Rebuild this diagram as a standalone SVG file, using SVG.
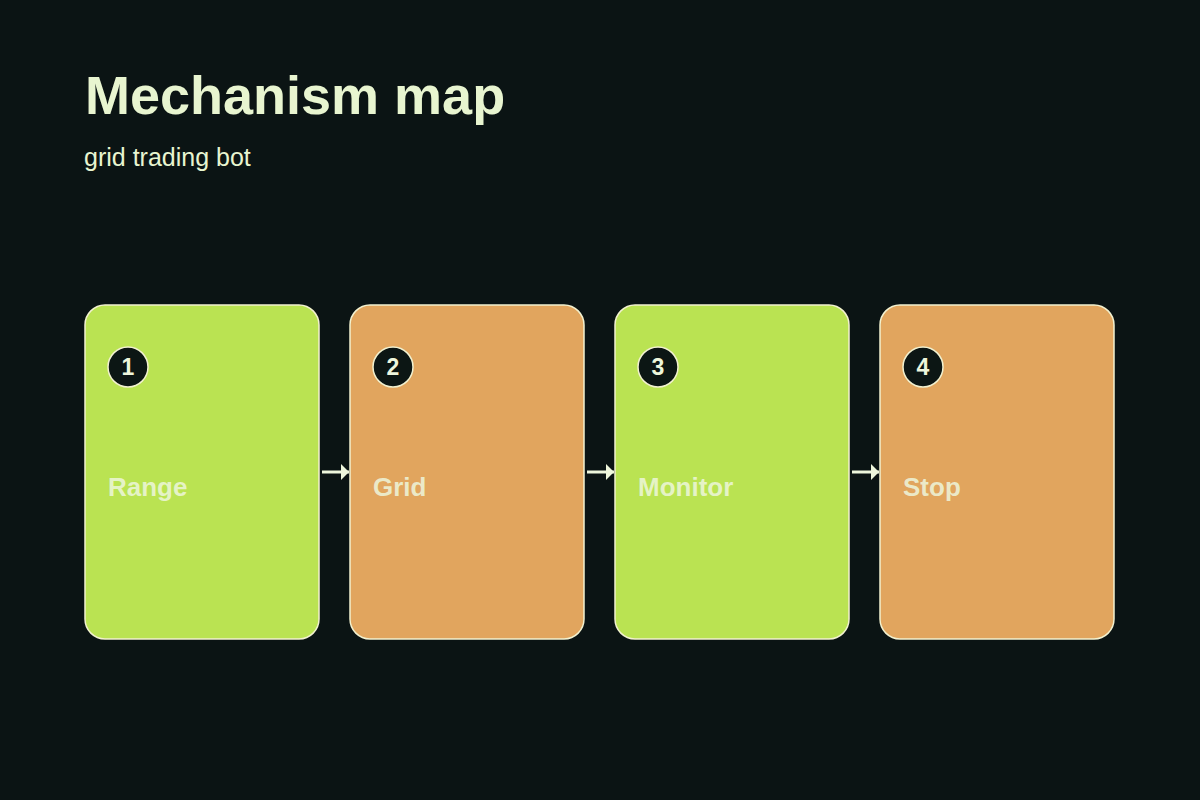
<svg xmlns="http://www.w3.org/2000/svg" width="1200" height="800" viewBox="0 0 1200 800">
<defs>
<style>
.card{stroke:#f2f1cf;stroke-width:1.5}
.g{fill:#bae352}
.o{fill:#e1a55e}
.badge{fill:#0c1614;stroke:#f2f1cf;stroke-width:1.5}
.num{font-family:"Liberation Sans",Arial,sans-serif;font-weight:bold;font-size:23px;fill:#eef6dc;text-anchor:middle}
.lbl{font-family:"Liberation Sans",Arial,sans-serif;font-weight:bold;font-size:26px;fill:#eef6dc;fill-opacity:0.85}
.title{font-family:"Liberation Sans",Arial,sans-serif;font-weight:bold;font-size:54px;fill:#e8f5d0}
.sub{font-family:"Liberation Sans",Arial,sans-serif;font-size:25px;fill:#e8f5d0}
.conn{stroke:#eef6dc;stroke-width:3;fill:none}
</style>
<marker id="ah" viewBox="0 0 8 16" refX="8" refY="8" markerWidth="8" markerHeight="16" markerUnits="userSpaceOnUse" orient="auto">
<path d="M0,0 L8,8 L0,16 z" fill="#eef6dc"/>
</marker>
</defs>
<rect width="1200" height="800" fill="#0b1414"/>
<text class="title" x="85" y="114">Mechanism map</text>
<text class="sub" x="84" y="166">grid trading bot</text>
<g id="connectors">
<line class="conn" x1="322" y1="472" x2="349" y2="472" marker-end="url(#ah)"/>
<line class="conn" x1="587" y1="472" x2="614" y2="472" marker-end="url(#ah)"/>
<line class="conn" x1="852" y1="472" x2="879" y2="472" marker-end="url(#ah)"/>
</g>
<g id="node1">
<rect class="card g" x="85" y="305" width="234" height="334" rx="20"/>
<circle class="badge" cx="128" cy="367" r="20"/>
<text class="num" x="128" y="375">1</text>
<text class="lbl" x="108" y="496">Range</text>
</g>
<g id="node2">
<rect class="card o" x="350" y="305" width="234" height="334" rx="20"/>
<circle class="badge" cx="393" cy="367" r="20"/>
<text class="num" x="393" y="375">2</text>
<text class="lbl" x="373" y="496">Grid</text>
</g>
<g id="node3">
<rect class="card g" x="615" y="305" width="234" height="334" rx="20"/>
<circle class="badge" cx="658" cy="367" r="20"/>
<text class="num" x="658" y="375">3</text>
<text class="lbl" x="638" y="496">Monitor</text>
</g>
<g id="node4">
<rect class="card o" x="880" y="305" width="234" height="334" rx="20"/>
<circle class="badge" cx="923" cy="367" r="20"/>
<text class="num" x="923" y="375">4</text>
<text class="lbl" x="903" y="496">Stop</text>
</g>
</svg>
